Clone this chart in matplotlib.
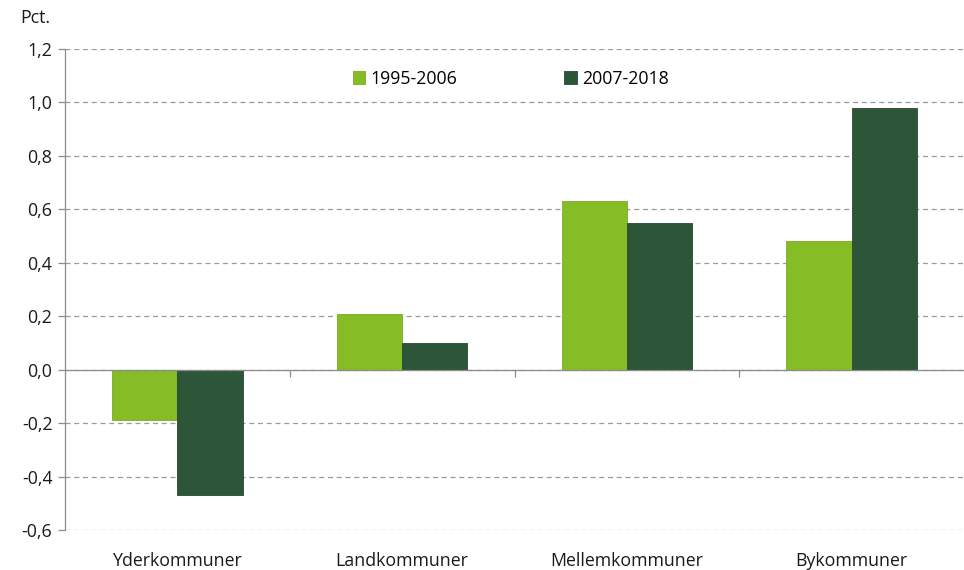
import numpy as np
import matplotlib.pyplot as plt
from matplotlib.ticker import FuncFormatter, FixedLocator

plt.rcParams['font.family'] = ['Open Sans', 'DejaVu Sans']

# data
categories = ['Yderkommuner', 'Landkommuner', 'Mellemkommuner', 'Bykommuner']
series_names = ['1995-2006', '2007-2018']
vals_1995_2006 = [-0.19, 0.21, 0.63, 0.48]
vals_2007_2018 = [-0.47, 0.10, 0.55, 0.98]

light = '#86bc25'
dark = '#2d5537'
axis_grey = '#8c8c8c'
fs = 12.8

fig = plt.figure(figsize=(9.64, 5.70), dpi=100)
ax = fig.add_axes([65 / 964, 1 - 530 / 570, (964 - 65) / 964, (530 - 49) / 570])

x = np.arange(len(categories))
w = 0.29
ax.bar(x - w / 2, vals_1995_2006, w, color=light, edgecolor='#7aab22', linewidth=0.6,
       label=series_names[0], zorder=3)
ax.bar(x + w / 2, vals_2007_2018, w, color=dark, edgecolor='#264a2f', linewidth=0.6,
       label=series_names[1], zorder=3)

ax.set_xlim(-0.5, len(categories) - 0.5)
ax.set_ylim(-0.6, 1.2)
ax.set_yticks(np.arange(-0.6, 1.21, 0.2))
ax.yaxis.set_major_formatter(FuncFormatter(lambda v, p: f'{v:.1f}'.replace('.', ',').replace('-0,0', '0,0')))
ax.yaxis.grid(True, linestyle=(0, (4, 3)), color='#9a9a9a', linewidth=0.9, zorder=0)
ax.tick_params(axis='y', length=5, width=0.9, color=axis_grey, labelsize=fs, labelcolor='#1a1a1a', pad=4)

for s in ['top', 'right']:
    ax.spines[s].set_visible(False)
ax.spines['left'].set_color(axis_grey)
ax.spines['left'].set_linewidth(0.9)
ax.spines['bottom'].set_position(('data', 0))
ax.spines['bottom'].set_color(axis_grey)
ax.spines['bottom'].set_linewidth(0.9)
ax.spines['bottom'].set_zorder(4)

# boundary ticks on the zero line
ax.xaxis.set_major_locator(FixedLocator(x[:-1] + 0.5))
ax.set_xticklabels([])
ax.tick_params(axis='x', direction='out', length=5, width=0.9, color=axis_grey)

# category labels at the bottom
sec = ax.secondary_xaxis(0)
sec.set_xticks(x)
sec.set_xticklabels(categories)
sec.tick_params(length=0, labelsize=fs, labelcolor='#1a1a1a', pad=16)
sec.spines['bottom'].set_visible(False)

leg = ax.legend(loc='upper center', bbox_to_anchor=(0.496, 0.99), ncol=2, frameon=False,
                fontsize=fs, handlelength=0.7, handleheight=0.7, handletextpad=0.3,
                columnspacing=6.0)

fig.text(20 / 964, 1 - 18 / 570, 'Pct.', fontsize=fs, color='#1a1a1a', va='center', ha='left')

fig.savefig('out.png', dpi=100)
